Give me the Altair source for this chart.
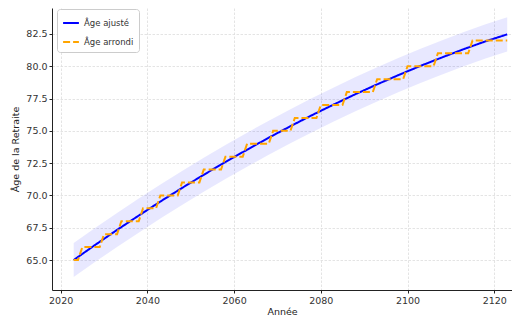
import altair as alt
import pandas as pd

# ---- data ----
adj_years = [2023, 2028, 2033, 2038, 2043, 2048, 2053, 2058, 2063, 2068, 2073,
             2078, 2083, 2088, 2093, 2098, 2103, 2108, 2113, 2118, 2123]
adj_ages = [65.00, 66.18, 67.33, 68.44, 69.53, 70.58, 71.60, 72.59, 73.54, 74.47, 75.36,
            76.22, 77.04, 77.84, 78.60, 79.33, 80.03, 80.69, 81.33, 81.93, 82.47]
band_low = [63.68, 64.86, 66.01, 67.12, 68.21, 69.26, 70.28, 71.27, 72.22, 73.15, 74.04,
            74.90, 75.72, 76.52, 77.28, 78.01, 78.71, 79.37, 80.01, 80.61, 81.15]
band_high = [66.32, 67.50, 68.65, 69.76, 70.85, 71.90, 72.92, 73.91, 74.86, 75.79, 76.68,
             77.54, 78.36, 79.16, 79.92, 80.65, 81.35, 82.01, 82.65, 83.25, 83.79]

# rounded age: year at which each integer age starts
step_start = [2023, 2025, 2030, 2034, 2039, 2043, 2048, 2053, 2058, 2063, 2069,
              2074, 2080, 2086, 2093, 2100, 2107, 2115]
step_age = [65, 66, 67, 68, 69, 70, 71, 72, 73, 74, 75,
            76, 77, 78, 79, 80, 81, 82]
last_year = 2123

series_names = ["Âge ajusté", "Âge arrondi"]
x_ticks = [2020, 2040, 2060, 2080, 2100, 2120]
y_ticks = [65.0, 67.5, 70.0, 72.5, 75.0, 77.5, 80.0, 82.5]

# ---- build tables ----
rows = [{"year": y, "age": a, "series": series_names[0]} for y, a in zip(adj_years, adj_ages)]
for y in range(step_start[0], last_year + 1):
    a = step_age[0]
    for s, v in zip(step_start, step_age):
        if y >= s:
            a = v
    rows.append({"year": y, "age": a, "series": series_names[1]})
df_lines = pd.DataFrame(rows)
df_band = pd.DataFrame({"year": adj_years, "low": band_low, "high": band_high})

xscale = alt.Scale(domain=[2018, 2124.1], nice=False, zero=False)
yscale = alt.Scale(domain=[62.68, 84.51], nice=False, zero=False)

band = alt.Chart(df_band).mark_area(color="blue", opacity=0.09).encode(
    x=alt.X("year:Q", scale=xscale,
            axis=alt.Axis(values=x_ticks, format="d", title="Année")),
    y=alt.Y("low:Q", scale=yscale,
            axis=alt.Axis(values=y_ticks, format=".1f", title="Âge de la Retraite")),
    y2="high:Q",
)

lines = alt.Chart(df_lines).mark_line(strokeWidth=2).encode(
    x=alt.X("year:Q", scale=xscale),
    y=alt.Y("age:Q", scale=yscale),
    color=alt.Color("series:N",
                    scale=alt.Scale(domain=series_names, range=["blue", "orange"]),
                    legend=alt.Legend(title=None)),
    strokeDash=alt.StrokeDash("series:N",
                              scale=alt.Scale(domain=series_names, range=[[1, 0], [7, 3]]),
                              legend=alt.Legend(title=None)),
)

chart = alt.layer(band, lines).properties(
    width=460, height=282,
    autosize=alt.AutoSizeParams(type="none"),
    padding={"left": 44, "top": 0, "right": 0, "bottom": 30},
).configure_view(stroke=None).configure_axis(
    labelFont="DejaVu Sans", labelFontSize=9.5, labelColor="#333333",
    titleFont="DejaVu Sans", titleFontSize=9.5, titleFontWeight="normal", titleColor="#222222",
    domainColor="#222222", domainWidth=1, tickColor="#222222", tickSize=3,
    labelPadding=2, gridColor="#dddddd", gridDash=[2.5, 1.5], gridWidth=0.8,
).configure_axisX(titlePadding=2).configure_axisY(titlePadding=5).configure_legend(
    orient="none", legendX=5, legendY=1,
    labelFont="DejaVu Sans", labelFontSize=8.5, labelColor="#333333",
    symbolType="stroke", symbolStrokeWidth=2, symbolSize=250,
    strokeColor="#cccccc", fillColor="white", cornerRadius=3, padding=5, rowPadding=5,
)

chart.save("out.html", embed_options={"renderer": "svg", "actions": False})
